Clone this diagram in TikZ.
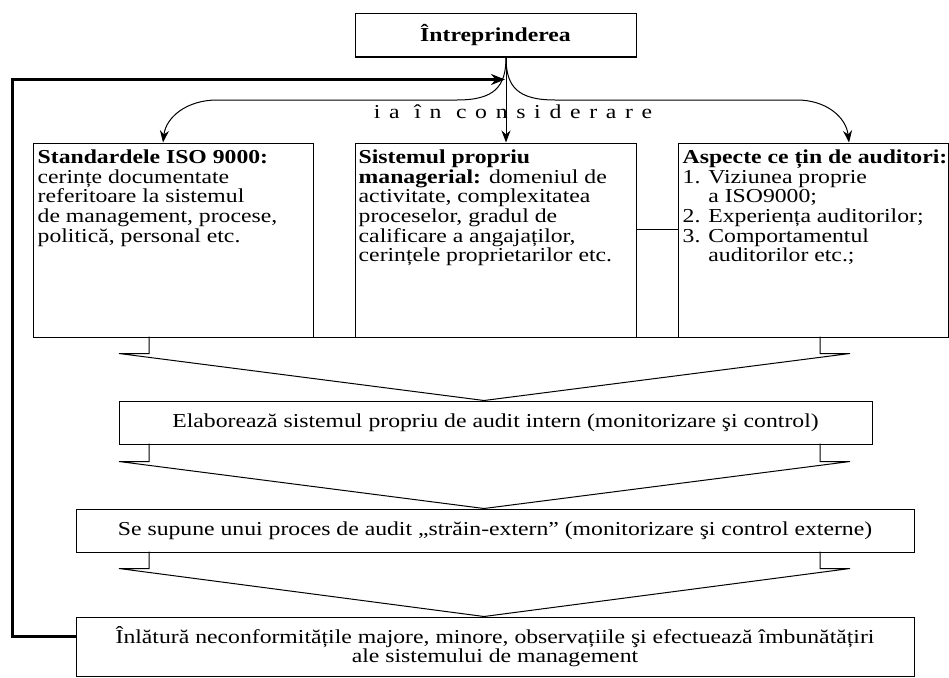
\documentclass[tikz,border=0pt]{standalone}
\usepackage{fontspec}
\setmainfont{Liberation Serif}[FakeStretch=1.2]
\usepackage{tikz}
\usetikzlibrary{calc,arrows.meta}

\newcommand{\diagfont}{\fontsize{19.75pt}{19.7pt}\selectfont\lineskiplimit=-20pt\relax}

\begin{document}
\begin{tikzpicture}[x=1pt,y=-1pt,font=\diagfont]
  \tikzset{flowbox/.style={draw=black,line width=1pt,rectangle,inner sep=0pt}}
  \tikzset{flowline/.style={draw=black,line width=1pt}}
  \tikzset{flowarrow/.style={draw=black,line width=1pt,-{Stealth[length=12pt,width=9pt]}}}
  \tikzset{feedback/.style={draw=black,line width=3.2pt,-{Stealth[length=14pt,width=11pt]}}}
  \tikzset{boxtext/.style={inner sep=0pt,align=left,anchor=north west}}
  \useasboundingbox (0,0) rectangle (949,677);
  % top
  \node[flowbox,minimum width=281pt,minimum height=43pt,font=\diagfont\bfseries] (top) at (495.5,35.5) {Întreprinderea};
  \coordinate (fork) at ($(top.south)+(10.5,0)$);
  \node[font=\diagfont\addfontfeature{LetterSpace=44}] (consid) at (513,112) {ia în considerare};
  % three boxes
  \node[flowbox,minimum width=280pt,minimum height=194pt] (std) at (173,240) {};
  \node[flowbox,minimum width=281pt,minimum height=194pt] (sys) at (495.5,240) {};
  \node[flowbox,minimum width=270pt,minimum height=194pt] (aud) at (813,240) {};
  \node[boxtext] (stdtext) at ($(std.north west)+(5,7)$) {\textbf{Standardele ISO 9000:}\\cerințe documentate\\referitoare la sistemul\\de management, procese,\\politică, personal etc.};
  \node[boxtext] (systext) at ($(sys.north west)+(4,7)$) {\textbf{Sistemul propriu}\\\textbf{managerial:} domeniul de\\activitate, complexitatea\\proceselor, gradul de\\calificare a angajaților,\\cerințele proprietarilor etc.};
  \node[boxtext] (audtext) at ($(aud.north west)+(5,7)$) {\textbf{Aspecte ce țin de auditori:}\\1. Viziunea proprie\\\phantom{1. }a ISO9000;\\2. Experiența auditorilor;\\3. Comportamentul\\\phantom{3. }auditorilor etc.;};
  % lower boxes
  \node[flowbox,minimum width=753pt,minimum height=43pt] (elab) at (495.5,422.5) {Elaborează sistemul propriu de audit intern (monitorizare şi control)};
  \node[flowbox,minimum width=838pt,minimum height=43pt] (ext) at (495,530.5) {Se supune unui proces de audit „străin-extern” (monitorizare şi control externe)};
  \node[flowbox,minimum width=838pt,minimum height=59pt,align=center] (fix) at (495,646.5) {Înlătură neconformitățile majore, minore, observațiile şi efectuează îmbunătățiri\\ale sistemului de management};
  % arrows from the top box
  \draw[flowarrow] (fork) .. controls (506,87) and (494,100) .. (457,100) -- (217,100) .. controls (187,100) and (166,117) .. ($(std.north)+(-10,0)$);
  \draw[flowarrow] (fork) -- (fork |- sys.north);
  \draw[flowarrow] (fork) .. controls (506,87) and (518,100) .. (555,100) -- (797,100) .. controls (826,100) and (846,117) .. ($(aud.north)+(36,0)$);
  \coordinate (fbtip) at ($(fork)+(-1,22)$);
  \draw[feedback] ($(fix.west)+(0,-10)$) -- ++(-63,0) |- (fbtip);
  % links between boxes
  \draw[flowline] ($(sys.east)+(0,-11)$) -- ($(aud.west)+(0,-11)$);
  \draw[flowline] (std.south east) -- (sys.south west);
  \draw[flowline] (sys.south east) -- (aud.south west);
  % funnels
  \draw[flowline] ($(elab.north)+(-11.5,0)$) -- ++(-365,-47) -- ++(30,0) -- ++(0,-17);
  \draw[flowline] ($(elab.north)+(-11.5,0)$) -- ++(366,-47) -- ++(-30,0) -- ++(0,-17);
  \draw[flowline] ($(ext.north)+(-11,0)$) -- ++(-365,-47) -- ++(30,0) -- ++(0,-18);
  \draw[flowline] ($(ext.north)+(-11,0)$) -- ++(366,-47) -- ++(-30,0) -- ++(0,-18);
  \draw[flowline] ($(fix.north)+(-11,0)$) -- ++(-365,-48) -- ++(30,0) -- ++(0,-17);
  \draw[flowline] ($(fix.north)+(-11,0)$) -- ++(366,-48) -- ++(-30,0) -- ++(0,-17);
\end{tikzpicture}
\end{document}
